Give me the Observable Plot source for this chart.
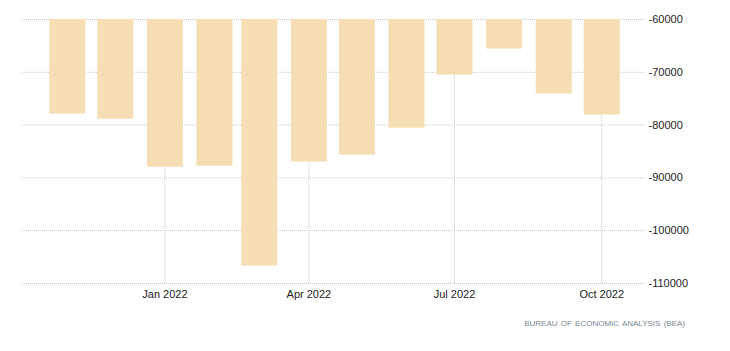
<!DOCTYPE html>
<html>
<head>
<meta charset="utf-8">
<script src="https://cdn.jsdelivr.net/npm/d3@7"></script>
<script src="https://cdn.jsdelivr.net/npm/@observablehq/plot@0.6"></script>
<style>
  html, body { margin: 0; padding: 0; background: #fff; }
  #wrap { position: relative; width: 730px; height: 351px; }
  #caption {
    position: absolute; right: 45px; top: 319px;
    font-family: "Liberation Sans", Arial, sans-serif; font-size: 8px;
    word-spacing: 1px; color: #7a8794; white-space: nowrap;
  }
</style>
</head>
<body>
<div id="wrap"><div id="chart"></div><div id="caption">BUREAU OF ECONOMIC ANALYSIS (BEA)</div></div>
<script>
const months = ["2021-11-01","2021-12-01","2022-01-01","2022-02-01","2022-03-01","2022-04-01",
                "2022-05-01","2022-06-01","2022-07-01","2022-08-01","2022-09-01","2022-10-01"];
const values = [-77900, -78900, -88000, -87800, -106700, -87000, -85700, -80600, -70500, -65600, -74100, -78100];
const yTicks = [-60000, -70000, -80000, -90000, -100000, -110000];
const xTickDates = ["2022-01-01","2022-04-01","2022-07-01","2022-10-01"];
const xDomain = ["2021-10-04","2022-10-29"];
const yDomain = [-110000, -60000];
const baseline = -60000;

const data = months.map((m, i) => ({date: new Date(m), value: values[i]}));
const xTicks = xTickDates.map(d => new Date(d));

const chart = Plot.plot({
  width: 730,
  height: 305,
  marginTop: 19,
  marginBottom: 22,
  marginLeft: 22,
  marginRight: 84,
  style: {fontFamily: "'Liberation Sans', Arial, sans-serif", fontSize: "11px", color: "#222", background: "#fff"},
  x: {type: "utc", domain: xDomain.map(d => new Date(d)), axis: null},
  y: {domain: yDomain, axis: null},
  marks: [
    Plot.ruleY(yTicks, {stroke: "#c8c8c8", strokeDasharray: "1,1"}),
    Plot.ruleX(xTicks, {y1: yDomain[0], y2: yDomain[1], stroke: "#c8c8c8", strokeDasharray: "1,1", insetBottom: -3}),
    Plot.ruleX(data, {x: "date", y1: baseline, y2: "value", stroke: "#f5deb3", strokeWidth: 36}),
    Plot.axisY(yTicks, {anchor: "right", label: null, tickSize: 0, tickPadding: 2, tickFormat: d => String(d), fill: "#222"}),
    Plot.axisX(xTicks, {anchor: "bottom", label: null, tickSize: 0, tickPadding: 7, tickFormat: d3.utcFormat("%b %Y"), fill: "#222"})
  ]
});
document.getElementById("chart").appendChild(chart);
</script>
</body>
</html>
